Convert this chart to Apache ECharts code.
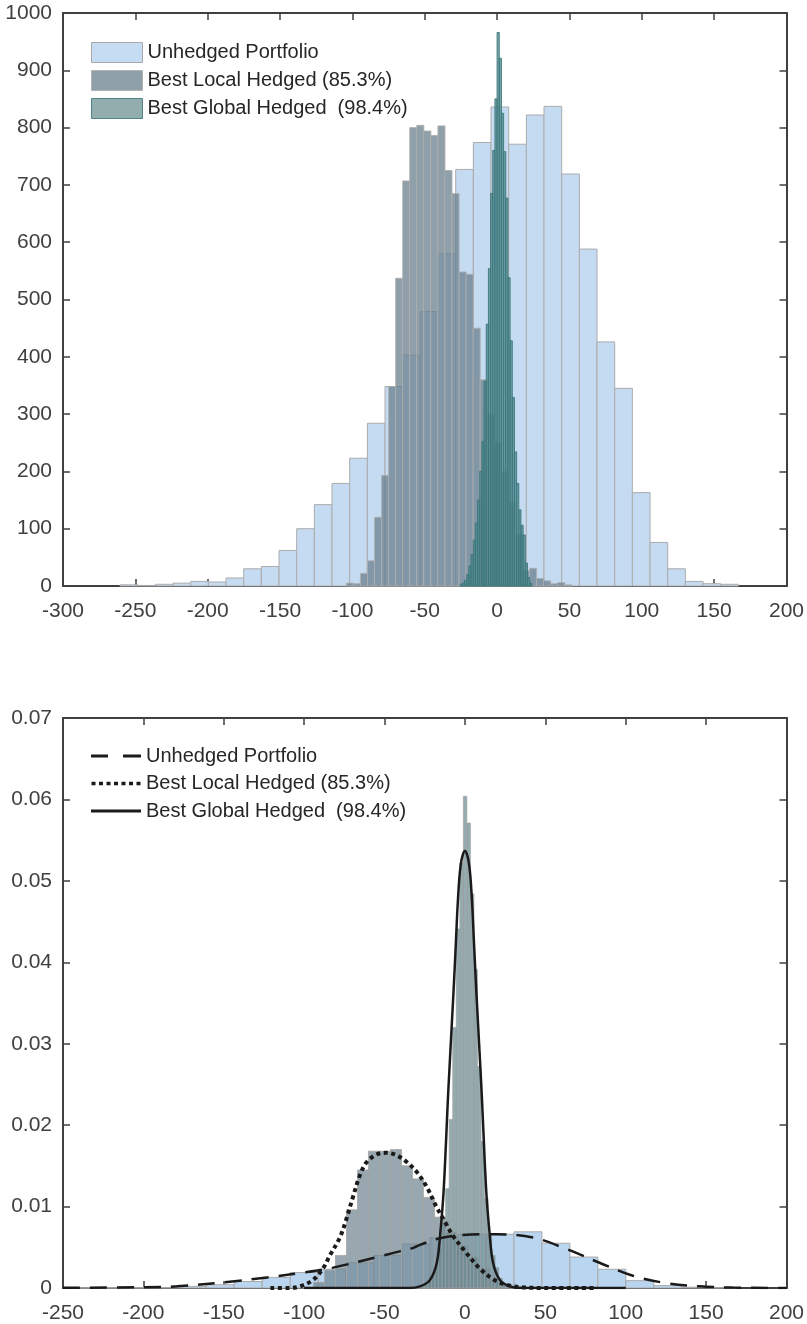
<!DOCTYPE html>
<html>
<head>
<meta charset="UTF-8">
<title>Hedging histograms</title>
<script src="https://cdn.jsdelivr.net/npm/echarts@6/dist/echarts.min.js"></script>
<style>
html, body { margin: 0; padding: 0; background: #fff; }
#container { width: 807px; height: 1324px; }
</style>
</head>
<body>
<div id="container"></div>
<script type="text/javascript">
// tick labels of the two panels
var topXTicks = [-300, -250, -200, -150, -100, -50, 0, 50, 100, 150, 200];
var topYTicks = [0, 100, 200, 300, 400, 500, 600, 700, 800, 900, 1000];
var botXTicks = [-250, -200, -150, -100, -50, 0, 50, 100, 150, 200];
var botYTicks = [0, 0.01, 0.02, 0.03, 0.04, 0.05, 0.06, 0.07];

var names = ['Unhedged Portfolio', 'Best Local Hedged (85.3%)', 'Best Global Hedged  (98.4%)'];

// top panel: counts per bin (first edge, bin width, counts)
var unhEdge0 = -260.6, unhWidth = 12.21;
var unhCounts = [2, 1, 3, 5, 8, 7, 14, 30, 34, 62, 100, 142, 179, 223, 284, 348, 403, 479, 580, 727,
                 774, 836, 771, 822, 837, 719, 588, 426, 345, 163, 76, 30, 8, 4, 3];
var locEdge0 = -104.2, locWidth = 4.87;
var locCounts = [5, 4, 22, 44, 120, 193, 348, 537, 707, 800, 804, 794, 786, 803, 725, 685, 548, 544, 450, 360,
                 300, 250, 200, 145, 90, 27, 31, 13, 9, 4, 6, 2];
var gloEdge0 = -25.5, gloWidth = 1.5;
var gloCounts = [3, 5, 10, 20, 35, 55, 80, 110, 150, 200, 252, 357, 457, 554, 685, 760, 850, 966,
                 921, 825, 758, 677, 538, 428, 329, 234, 179, 133, 106, 89, 40, 15, 5];

// bottom panel: densities per bin
var unhDEdge0 = -247.9, unhDWidth = 17.4;
var unhDens = [0.00001, 0.00002, 0.00003, 0.00005, 0.0002, 0.0004, 0.0008, 0.0013, 0.0019, 0.0023, 0.0031, 0.0040,
               0.0054, 0.0062, 0.0066, 0.0066, 0.0069, 0.0055, 0.0038, 0.0023, 0.0009, 0.0003, 0.0001, 0.00003];
var locDEdge0 = -94.2, locDWidth = 6.84;
var locDens = [0.0007, 0.0022, 0.0040, 0.0096, 0.0145, 0.0168, 0.0168, 0.0170, 0.0150, 0.0134, 0.0111, 0.0087,
               0.0068, 0.0052, 0.0038, 0.0024, 0.0010, 0.0004, 0.0002, 0.0001];
var gloDEdge0 = -27.4, gloDWidth = 2.2;
var gloDens = [0.0002, 0.0005, 0.0010, 0.0018, 0.0030, 0.0050, 0.0080, 0.0122, 0.0207, 0.0320, 0.0441, 0.0522, 0.0604,
               0.0571, 0.0484, 0.0391, 0.0272, 0.0180, 0.0110, 0.0065, 0.0040, 0.0025, 0.0012, 0.0006, 0.0003];

// fitted curves
var unhFitX = [-250, -200, -179, -150, -123, -100, -82, -50.6, -40.6, -32.4, -28, -15.7, -1.2, 19.5, 42.3, 63, 83.7, 104.5, 125.2, 146, 166.6, 200];
var unhFitY = [0.00002, 0.0001, 0.0002, 0.0007, 0.0013, 0.0019, 0.0025, 0.0040, 0.0045, 0.0049, 0.0053, 0.0061, 0.0065, 0.0066, 0.0062, 0.0048, 0.0031, 0.0015, 0.0006, 0.0002, 0.00005, 0];
var locFitX = [-121, -110, -102.7, -94.4, -88, -84, -77.8, -73.7, -69.6, -65.4, -61.3, -55, -48.8, -42.6, -36.4, -30.2, -24, -17.8, -11.5, -7.4, 0.9, 9.2, 17.4, 25.8, 35, 50, 80];
var locFitY = [0, 0, 0.0002, 0.0010, 0.0025, 0.0040, 0.0062, 0.0085, 0.0112, 0.0138, 0.0154, 0.0164, 0.0166, 0.0163, 0.0155, 0.0143, 0.0125, 0.0100, 0.0078, 0.0064, 0.0043, 0.0024, 0.0011, 0.0004, 0.0001, 0, 0];
var gloFitX = [-100, -35, -28, -21.7, -17.5, -15.3, -13.2, -10.3, -7.2, -5.6, -4.4, -2.6, 0, 2.6, 4.4, 5.6, 7.2, 10.3, 13.2, 15.3, 17.5, 21.7, 28, 35, 100];
var gloFitY = [0, 0, 0.0002, 0.0010, 0.0031, 0.0068, 0.0121, 0.0244, 0.0360, 0.0425, 0.0475, 0.0520, 0.0537, 0.0520, 0.0475, 0.0425, 0.0360, 0.0244, 0.0121, 0.0068, 0.0031, 0.0010, 0.0002, 0, 0];

function bins(edge0, width, vals) {
    var out = [];
    for (var i = 0; i < vals.length; i++) {
        out.push([edge0 + i * width, edge0 + (i + 1) * width, vals[i]]);
    }
    return out;
}
function pairs(xs, ys) {
    var out = [];
    for (var i = 0; i < xs.length; i++) out.push([xs[i], ys[i]]);
    return out;
}
function histRender(fill, stroke, lw) {
    return function (params, api) {
        var a = api.coord([api.value(0), 0]);
        var b = api.coord([api.value(1), api.value(2)]);
        return {
            type: 'rect',
            shape: { x: a[0], y: b[1], width: b[0] - a[0], height: a[1] - b[1] },
            style: { fill: fill, stroke: stroke, lineWidth: lw }
        };
    };
}

var FONT = 'Liberation Sans';
var axisCol = '#404040';
var labelStyle = { color: '#404040', fontFamily: FONT, fontSize: 21 };

function xAxisDef(grid, ticks, pos) {
    var main = pos === 'bottom';
    return {
        type: 'value', gridIndex: grid, position: pos,
        min: ticks[0], max: ticks[ticks.length - 1], interval: ticks[1] - ticks[0],
        axisLine: { onZero: false, lineStyle: { color: axisCol, width: 2 } },
        axisTick: { inside: true, length: 7, lineStyle: { color: axisCol, width: 1.5 } },
        axisLabel: { show: main, margin: 15, textStyle: labelStyle, formatter: function (v) { return String(v); } },
        splitLine: { show: false }
    };
}
function yAxisDef(grid, ticks, pos) {
    var main = pos === 'left';
    return {
        type: 'value', gridIndex: grid, position: pos,
        min: ticks[0], max: ticks[ticks.length - 1], interval: ticks[1] - ticks[0],
        axisLine: { onZero: false, lineStyle: { color: axisCol, width: 2 } },
        axisTick: { inside: true, length: 7, lineStyle: { color: axisCol, width: 1.5 } },
        axisLabel: { show: main, margin: 11, textStyle: labelStyle, formatter: function (v) { return String(v); } },
        splitLine: { show: false }
    };
}

// legend glyphs for the three fitted curves (dash, dot, solid)
var dashIcon = 'path://M0,0H17V3H0Z M32,0H50V3H32Z';
var dotIcon = 'path://M0,0H4V3.5H0Z M7.5,0H11.5V3.5H7.5Z M15,0H19V3.5H15Z M22.5,0H26.5V3.5H22.5Z M30,0H34V3.5H30Z M37.5,0H41.5V3.5H37.5Z M45,0H49V3.5H45Z';
var solidIcon = 'path://M0,0H50V3H0Z';

var dom = document.getElementById("container");
var myChart = echarts.init(dom, null, { renderer: 'canvas' });

var option = {
    animation: false,
    backgroundColor: '#ffffff',
    grid: [
        { left: 63, top: 13, width: 724, height: 573 },
        { left: 63, top: 718, width: 724, height: 571 }
    ],
    xAxis: [
        xAxisDef(0, topXTicks, 'bottom'),
        xAxisDef(0, topXTicks, 'top'),
        xAxisDef(1, botXTicks, 'bottom'),
        xAxisDef(1, botXTicks, 'top')
    ],
    yAxis: [
        yAxisDef(0, topYTicks, 'left'),
        yAxisDef(0, topYTicks, 'right'),
        yAxisDef(1, botYTicks, 'left'),
        yAxisDef(1, botYTicks, 'right')
    ],
    legend: [
        {
            orient: 'vertical', left: 91, top: 42, padding: 0,
            itemWidth: 51, itemHeight: 20, itemGap: 7,
            textStyle: { color: '#262626', fontFamily: FONT, fontSize: 20, lineHeight: 20 },
            data: [
                { name: names[0], icon: 'rect', itemStyle: { color: '#c6dcf2', borderColor: '#a9a9a9', borderWidth: 1 } },
                { name: names[1], icon: 'rect', itemStyle: { color: '#8fa0ab', borderColor: '#b3b3b3', borderWidth: 1 } },
                { name: names[2], icon: 'rect', itemStyle: { color: '#93acad', borderColor: '#4e8588', borderWidth: 1 } }
            ]
        },
        {
            orient: 'vertical', left: 91, top: 746, padding: 0,
            itemWidth: 50, itemHeight: 3.5, itemGap: 7.5,
            textStyle: { color: '#262626', fontFamily: FONT, fontSize: 20, lineHeight: 20 },
            formatter: function (n) { return n.replace('fit: ', ''); },
            data: [
                { name: 'fit: ' + names[0], icon: dashIcon, itemStyle: { color: '#1a1a1a', borderWidth: 0 } },
                { name: 'fit: ' + names[1], icon: dotIcon, itemStyle: { color: '#1a1a1a', borderWidth: 0 } },
                { name: 'fit: ' + names[2], icon: solidIcon, itemStyle: { color: '#1a1a1a', borderWidth: 0 } }
            ]
        }
    ],
    series: [
        {
            name: names[0], type: 'custom', xAxisIndex: 0, yAxisIndex: 0,
            renderItem: histRender('rgb(197,219,241)', 'rgb(172,172,172)', 1),
            itemStyle: { color: '#c6dcf2' },
            encode: { x: [0, 1], y: 2 },
            data: bins(unhEdge0, unhWidth, unhCounts)
        },
        {
            name: names[1], type: 'custom', xAxisIndex: 0, yAxisIndex: 0,
            renderItem: histRender('rgba(106,128,143,0.75)', 'rgba(175,175,175,0.85)', 1),
            itemStyle: { color: '#8fa0ab' },
            encode: { x: [0, 1], y: 2 },
            data: bins(locEdge0, locWidth, locCounts)
        },
        {
            name: names[2], type: 'custom', xAxisIndex: 0, yAxisIndex: 0,
            renderItem: histRender('rgba(70,135,138,0.72)', 'rgba(60,118,122,0.9)', 1),
            itemStyle: { color: '#93acad' },
            encode: { x: [0, 1], y: 2 },
            data: bins(gloEdge0, gloWidth, gloCounts)
        },
        {
            name: 'pdf: ' + names[0], type: 'custom', xAxisIndex: 2, yAxisIndex: 2,
            renderItem: histRender('rgb(185,213,240)', 'rgb(170,170,170)', 1),
            encode: { x: [0, 1], y: 2 },
            data: bins(unhDEdge0, unhDWidth, unhDens)
        },
        {
            name: 'pdf: ' + names[1], type: 'custom', xAxisIndex: 2, yAxisIndex: 2,
            renderItem: histRender('rgba(110,130,142,0.7)', 'rgba(165,165,165,0.8)', 1),
            encode: { x: [0, 1], y: 2 },
            data: bins(locDEdge0, locDWidth, locDens)
        },
        {
            name: 'pdf: ' + names[2], type: 'custom', xAxisIndex: 2, yAxisIndex: 2,
            renderItem: histRender('rgba(102,136,142,0.7)', 'rgba(160,160,160,0.8)', 0.8),
            encode: { x: [0, 1], y: 2 },
            data: bins(gloDEdge0, gloDWidth, gloDens)
        },
        {
            name: 'fit: ' + names[0], type: 'line', xAxisIndex: 2, yAxisIndex: 2,
            symbol: 'none', smooth: 0.35,
            lineStyle: { color: '#1a1a1a', width: 2.5, type: [17, 10] },
            itemStyle: { color: '#1a1a1a' },
            data: pairs(unhFitX, unhFitY)
        },
        {
            name: 'fit: ' + names[1], type: 'line', xAxisIndex: 2, yAxisIndex: 2,
            symbol: 'none', smooth: 0.35,
            lineStyle: { color: '#1a1a1a', width: 4, type: [4, 3.5], cap: 'butt' },
            itemStyle: { color: '#1a1a1a' },
            data: pairs(locFitX, locFitY)
        },
        {
            name: 'fit: ' + names[2], type: 'line', xAxisIndex: 2, yAxisIndex: 2,
            symbol: 'none', smooth: 0.35,
            lineStyle: { color: '#1a1a1a', width: 2.5 },
            itemStyle: { color: '#1a1a1a' },
            data: pairs(gloFitX, gloFitY)
        }
    ]
};

myChart.setOption(option);
</script>
</body>
</html>
